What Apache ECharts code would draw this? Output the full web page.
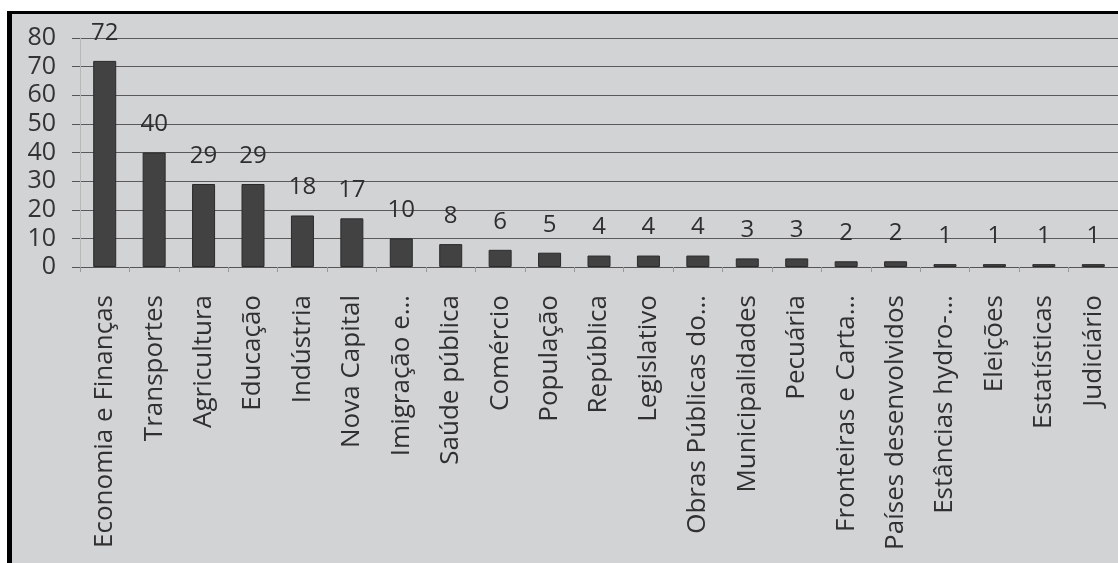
<!DOCTYPE html>
<html>
<head>
<meta charset="utf-8">
<script src="https://cdn.jsdelivr.net/npm/echarts@6/dist/echarts.min.js"></script>
<style>
html,body{margin:0;padding:0;background:#ffffff;width:1118px;height:563px;overflow:hidden;}
#paper{position:absolute;left:7px;top:11px;right:0;bottom:0;background:#d2d3d5;border-left:5px solid #000;border-top:3px solid #000;}
#chart{position:absolute;left:0;top:0;width:1118px;height:563px;}
</style>
</head>
<body>
<div id="paper"></div>
<div id="chart"></div>
<script>
const categories = ["Economia e Finanças","Transportes","Agricultura","Educação","Indústria","Nova Capital","Imigração e…","Saúde pública","Comércio","População","República","Legislativo","Obras Públicas do…","Municipalidades","Pecuária","Fronteiras e Carta…","Países desenvolvidos","Estâncias hydro-…","Eleições","Estatísticas","Judiciário"];
const values = [72,40,29,29,18,17,10,8,6,5,4,4,4,3,3,2,2,1,1,1,1];
const yTicks = [0,10,20,30,40,50,60,70,80];

const chart = echarts.init(document.getElementById('chart'), null, {renderer:'canvas'});
chart.setOption({
  backgroundColor: 'transparent',
  animation: false,
  grid: {left: 80, top: 38, right: -4, bottom: 296, containLabel: false},
  xAxis: {
    type: 'category',
    data: categories,
    boundaryGap: true,
    axisLine: {show: true, lineStyle: {color: '#555', width: 1}},
    axisTick: {show: true, alignWithLabel: false, length: 5, lineStyle: {color: '#999'}},
    axisLabel: {
      interval: 0, rotate: 90, margin: 28,
      fontFamily: 'Open Sans', fontSize: 26, color: '#303030'
    }
  },
  yAxis: {
    type: 'value',
    min: yTicks[0], max: yTicks[yTicks.length-1], interval: 10,
    axisLine: {show: true, lineStyle: {color: '#b8b8b8', width: 1}},
    axisTick: {show: true, length: 8, lineStyle: {color: '#555'}},
    axisLabel: {margin: 24, fontFamily: 'Open Sans', fontSize: 25, color: '#333'},
    splitLine: {show: true, lineStyle: {color: '#5a5a5a', width: 1.2}}
  },
  series: [{
    type: 'bar',
    data: values,
    barWidth: 23,
    itemStyle: {color: '#424242', borderColor: '#2a2a2a', borderWidth: 1},
    label: {
      show: true, position: 'top', distance: 16,
      fontFamily: 'Open Sans', fontSize: 24, color: '#2e2e2e'
    }
  }]
});
</script>
</body>
</html>
